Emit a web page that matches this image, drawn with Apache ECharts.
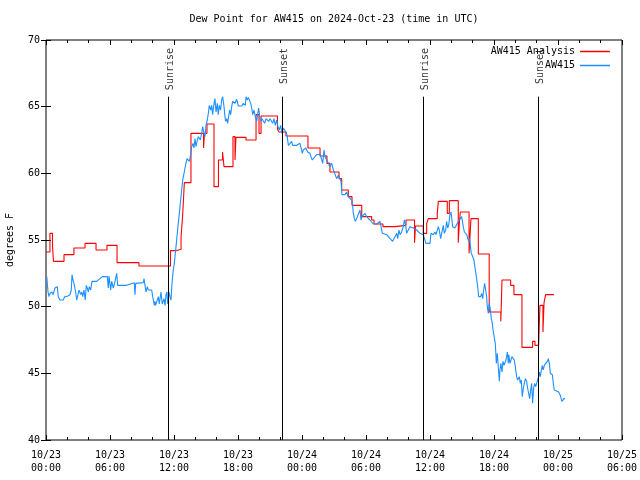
<!DOCTYPE html>
<html>
<head>
<meta charset="utf-8">
<script src="https://cdn.jsdelivr.net/npm/echarts@6/dist/echarts.min.js"></script>
<style>html,body{margin:0;padding:0;background:#fff}#c{width:640px;height:480px}</style>
</head>
<body>
<div id="c"></div>
<script>
// Hours since 2024-10-23 00:00 UTC, dew point in degrees F
const chartTitle = 'Dew Point for AW415 on 2024-Oct-23 (time in UTC)';
const yTickValues = [40, 45, 50, 55, 60, 65, 70];
const xTickHours = [0, 6, 12, 18, 24, 30, 36, 42, 48, 54];

const analysisName = 'AW415 Analysis';
const analysisSeries = [
  [0.00,54.1],[0.37,55.5],[0.61,54.55],[0.70,53.4],[1.69,53.9],[2.62,54.4],[3.66,54.75],
  [4.69,54.25],[5.72,54.6],[6.66,53.3],[8.72,53.05],[11.67,54.2],[12.19,54.3],[12.66,55.2],
  [12.80,56.7],[12.97,59.3],[13.59,63.0],[14.77,61.9],[14.86,63.0],[15.09,63.7],[15.75,59.0],
  [16.17,61.0],[16.55,61.6],[16.69,60.5],[17.53,62.75],[17.72,61.0],[17.81,62.7],[18.75,62.5],
  [19.69,64.4],[19.97,63.0],[20.16,64.3],[21.70,63.3],[21.84,63.1],[22.50,62.8],[24.56,61.9],
  [25.69,61.3],[26.34,60.75],[26.62,60.1],[27.47,59.6],[27.72,58.75],[28.34,58.25],[28.69,57.6],
  [29.60,56.75],[30.53,56.5],[30.75,56.2],[31.59,56.0],[32.72,56.1],[33.75,56.5],[34.55,54.8],
  [34.64,56.05],[35.37,55.5],[35.69,56.25],[35.84,56.6],[36.68,57.0],[36.78,57.9],[37.62,57.0],
  [37.81,57.95],[38.65,54.8],[38.75,56.25],[38.84,57.1],[39.66,54.0],[39.84,56.6],[40.53,53.95],
  [41.55,49.6],[42.64,48.9],[42.75,52.0],[43.56,51.6],[43.87,50.9],[44.62,46.95],[45.62,47.4],
  [45.84,47.1],[46.19,47.3],[46.25,48.75],[46.31,50.1],[46.59,48.1],[46.69,50.3],[46.84,50.9],
  [47.62,50.9]
];

const stationName = 'AW415';
const stationSeries = [
  [0.07,52.25],[0.19,51.1],[0.28,50.75],[0.37,51.0],[0.47,50.9],[0.56,51.1],[0.66,50.9],[0.75,50.9],
  [0.84,51.4],[0.94,51.25],[1.06,51.5],[1.15,50.75],[1.31,50.5],[1.62,50.5],[1.75,50.75],[2.06,50.8],
  [2.25,50.9],[2.37,51.25],[2.44,52.4],[2.53,52.0],[2.62,51.75],[2.72,51.9],[2.78,51.1],[2.88,50.5],
  [3.00,50.9],[3.09,51.25],[3.25,50.9],[3.35,51.1],[3.44,50.75],[3.56,51.25],[3.68,50.5],[3.78,51.6],
  [3.87,51.4],[3.97,51.1],[4.06,51.5],[4.19,51.25],[4.31,51.9],[4.43,51.9],[4.75,51.9],[4.87,52.0],
  [5.28,52.25],[5.75,52.25],[5.84,51.4],[5.91,52.3],[5.97,51.9],[6.06,51.25],[6.16,51.9],[6.31,51.4],
  [6.47,51.9],[6.63,52.5],[6.72,51.6],[6.84,51.6],[7.56,51.6],[7.66,51.75],[8.28,51.8],[8.34,50.9],
  [8.41,51.75],[9.12,51.8],[9.19,52.1],[9.28,51.6],[9.37,51.1],[9.50,51.5],[9.59,51.25],[9.91,51.25],
  [10.00,50.75],[10.16,50.1],[10.22,50.4],[10.28,50.1],[10.44,50.2],[10.53,50.75],[10.62,50.2],
  [10.78,51.1],[10.90,50.2],[11.06,50.6],[11.16,50.1],[11.25,50.9],[11.34,51.1],[11.41,50.2],
  [11.53,51.1],[11.62,50.75],[11.72,50.5],[11.78,51.4],[11.84,52.0],[11.93,52.75],[12.03,53.25],
  [12.09,53.75],[12.19,54.5],[12.28,55.25],[12.40,56.25],[12.50,57.0],[12.59,57.75],[12.72,58.75],
  [12.82,59.5],[12.94,60.0],[13.03,60.4],[13.12,60.75],[13.22,61.1],[13.34,61.25],[13.44,60.9],
  [13.56,61.4],[13.66,62.0],[13.78,62.25],[13.87,61.9],[13.97,62.6],[14.06,62.0],[14.19,62.5],
  [14.28,62.75],[14.37,62.9],[14.47,62.5],[14.59,63.0],[14.69,63.5],[14.81,63.0],[14.91,62.75],
  [15.00,63.6],[15.12,64.0],[15.22,64.5],[15.31,65.1],[15.44,64.75],[15.53,65.1],[15.62,64.4],
  [15.75,65.25],[15.84,65.6],[15.94,64.6],[16.06,65.25],[16.15,64.4],[16.25,65.1],[16.37,64.75],
  [16.47,65.5],[16.56,65.75],[16.69,65.0],[16.78,64.25],[16.84,63.9],[16.94,64.1],[17.03,63.75],
  [17.12,64.25],[17.22,64.75],[17.31,64.4],[17.41,65.0],[17.50,65.4],[17.60,65.5],[17.72,65.25],
  [17.88,65.55],[18.03,65.05],[18.35,65.05],[18.50,65.25],[18.59,65.35],[18.69,65.1],[18.75,65.75],
  [18.87,65.5],[18.97,65.7],[19.06,65.7],[19.19,65.25],[19.28,64.9],[19.38,64.4],[19.50,64.75],
  [19.62,64.25],[19.75,63.9],[19.84,64.4],[19.94,64.9],[20.06,64.1],[20.16,63.9],[20.25,64.1],
  [20.37,64.25],[20.50,63.75],[20.62,64.1],[20.75,64.25],[20.88,63.9],[21.00,64.1],[21.12,64.25],
  [21.25,63.75],[21.37,64.1],[21.50,63.6],[21.62,64.0],[21.75,63.5],[21.87,63.25],[22.00,63.6],
  [22.12,63.0],[22.25,63.4],[22.37,63.3],[22.50,63.1],[22.62,62.75],[22.72,62.1],[22.87,62.1],
  [23.03,62.4],[23.12,62.1],[23.50,62.1],[23.81,62.25],[23.97,62.4],[24.03,61.5],[24.12,61.75],
  [24.22,61.9],[24.28,61.6],[24.37,61.9],[24.44,62.0],[24.53,61.6],[24.66,61.75],[24.75,61.5],
  [24.84,61.25],[24.97,61.0],[25.06,61.1],[25.37,61.4],[25.53,61.5],[25.69,61.45],[25.84,61.5],
  [25.94,60.75],[26.06,61.75],[26.16,61.25],[26.31,61.1],[26.47,60.75],[26.62,60.5],[26.78,60.75],
  [26.94,60.25],[27.09,60.1],[27.25,59.6],[27.41,59.85],[27.56,60.0],[27.66,59.4],[27.75,58.4],
  [27.87,58.5],[28.03,58.4],[28.19,58.6],[28.34,58.25],[28.50,58.25],[28.66,58.0],[28.75,57.6],
  [28.81,57.0],[28.91,56.6],[29.00,56.4],[29.12,56.6],[29.28,56.5],[29.44,57.25],[29.53,56.5],
  [29.62,56.75],[29.75,56.6],[29.91,57.0],[30.06,56.75],[30.22,56.6],[30.37,56.5],[30.53,56.4],
  [30.69,56.2],[31.00,56.2],[31.16,56.1],[31.31,56.4],[31.41,56.0],[31.53,55.5],[31.94,55.4],
  [32.09,55.25],[32.25,55.1],[32.41,55.0],[32.50,54.9],[32.62,55.05],[32.72,55.25],[32.88,55.5],
  [32.97,55.1],[33.09,55.75],[33.19,55.4],[33.34,55.6],[33.50,56.0],[33.59,56.5],[33.72,56.1],
  [33.81,55.5],[33.97,55.6],[34.12,56.0],[34.28,56.0],[34.44,55.9],[34.59,55.8],[34.75,55.75],
  [34.91,55.6],[35.06,55.5],[35.22,55.5],[35.37,55.4],[35.53,55.25],[35.62,54.75],[36.00,54.75],
  [36.09,55.5],[36.22,55.6],[36.31,55.4],[36.47,55.6],[36.56,55.4],[36.69,55.75],[36.78,56.0],
  [36.87,55.75],[37.00,55.1],[37.09,55.5],[37.25,56.1],[37.34,55.5],[37.47,55.75],[37.56,56.4],
  [37.66,55.9],[37.75,56.1],[37.81,56.5],[37.87,56.9],[37.97,57.1],[38.06,56.5],[38.12,56.0],
  [38.25,56.1],[38.34,55.9],[38.44,56.0],[38.56,56.25],[38.65,56.4],[38.75,56.5],[38.84,56.4],
  [38.97,56.75],[39.06,56.9],[39.12,56.0],[39.22,55.6],[39.31,55.5],[39.44,55.4],[39.53,55.25],
  [39.62,54.9],[39.72,55.1],[39.78,54.6],[39.87,54.0],[40.00,53.9],[40.09,53.6],[40.19,53.1],
  [40.28,52.6],[40.37,52.1],[40.47,51.5],[40.56,50.75],[40.66,50.6],[40.75,50.75],[40.84,51.0],
  [40.94,50.6],[41.03,51.25],[41.12,51.75],[41.22,51.25],[41.31,50.75],[41.37,50.0],[41.47,49.5],
  [41.56,50.25],[41.66,49.75],[41.75,49.1],[41.84,48.75],[41.94,48.1],[42.03,48.0],[42.12,47.25],
  [42.22,45.75],[42.31,46.5],[42.40,45.5],[42.50,44.4],[42.56,45.25],[42.65,45.75],[42.75,45.1],
  [42.84,45.9],[42.94,45.6],[43.03,45.75],[43.12,46.0],[43.25,46.6],[43.34,45.75],[43.38,46.4],
  [43.50,45.75],[43.59,46.0],[43.69,46.25],[43.81,46.1],[43.90,46.0],[44.00,45.5],[44.12,44.75],
  [44.22,44.5],[44.31,44.4],[44.37,44.75],[44.47,44.25],[44.56,44.5],[44.65,43.25],[44.75,43.9],
  [44.84,44.25],[44.94,44.6],[45.06,44.4],[45.15,43.9],[45.25,43.5],[45.34,43.1],[45.44,43.75],
  [45.53,44.25],[45.62,42.75],[45.72,43.9],[45.81,44.25],[45.91,44.0],[46.00,44.1],[46.09,44.5],
  [46.19,44.75],[46.25,45.1],[46.34,44.75],[46.44,45.25],[46.53,45.6],[46.62,45.25],[46.72,45.6],
  [46.81,45.5],[46.90,45.75],[47.00,45.9],[47.09,46.1],[47.19,45.75],[47.28,45.0],[47.37,44.9],
  [47.47,44.9],[47.56,44.25],[47.65,43.75],[47.75,43.6],[48.06,43.6],[48.19,43.4],[48.28,43.25],
  [48.37,42.9],[48.47,43.0],[48.56,43.1],[48.66,43.1]
];

const sunLabels = ['Sunrise', 'Sunset', 'Sunrise', 'Sunset'];
const sunHours = [11.44, 22.12, 35.34, 46.12];

const FONT = 'DejaVu Sans Mono';
const chart = echarts.init(document.getElementById('c'), null, {renderer: 'canvas'});

function fmtHour(h) {
  const day = 23 + Math.floor(h / 24);
  const hh = h % 24;
  return '10/' + day + '\n' + (hh < 10 ? '0' : '') + hh + ':00';
}

const sunLineData = sunHours.map(t => [{coord: [t, 40]}, {coord: [t, 65.75]}]);

const option = {
  animation: false,
  backgroundColor: '#fff',
  textStyle: {fontFamily: FONT, fontSize: 10, color: '#000'},
  title: {
    text: chartTitle, left: 329, top: 9, textAlign: 'center',
    textStyle: {fontFamily: FONT, fontSize: 10, fontWeight: 'normal', color: '#000'}
  },
  legend: {
    orient: 'vertical', align: 'right', right: 25, top: 41, itemGap: 3,
    itemWidth: 30, itemHeight: 1.5, icon: 'rect',
    textStyle: {fontFamily: FONT, fontSize: 10, color: '#000', lineHeight: 11},
    data: [analysisName, stationName]
  },
  grid: {left: 46, right: 18, top: 40, bottom: 40, outerBoundsMode: 'none', containLabel: false,
    show: true, borderColor: '#000', borderWidth: 1, backgroundColor: 'transparent'},
  xAxis: [{
    type: 'value', min: 0, max: 54, interval: 6,
    axisLine: {show: false},
    axisTick: {show: true, inside: true, length: 5, lineStyle: {color: '#000'}},
    minorTick: {show: true, splitNumber: 3, length: 3, lineStyle: {color: '#000'}},
    splitLine: {show: false},
    axisLabel: {fontFamily: FONT, fontSize: 10, color: '#000', margin: 9, lineHeight: 13,
      formatter: v => xTickHours.includes(v) ? fmtHour(v) : ''}
  }, {
    type: 'value', min: 0, max: 54, interval: 6, position: 'top',
    axisLine: {show: false},
    axisTick: {show: true, inside: true, length: 5, lineStyle: {color: '#000'}},
    minorTick: {show: true, splitNumber: 3, length: 3, lineStyle: {color: '#000'}},
    splitLine: {show: false}, axisLabel: {show: false}
  }],
  yAxis: [{
    type: 'value', min: 40, max: 70, interval: 5,
    name: 'degrees F', nameLocation: 'middle', nameGap: 31, nameRotate: 90,
    nameTextStyle: {fontFamily: FONT, fontSize: 10, color: '#000'},
    axisLine: {show: false},
    axisTick: {show: true, inside: true, length: 5, lineStyle: {color: '#000'}},
    splitLine: {show: false},
    axisLabel: {fontFamily: FONT, fontSize: 10, color: '#000', margin: 6,
      formatter: v => yTickValues.includes(v) ? String(v) : ''}
  }, {
    type: 'value', min: 40, max: 70, interval: 5, position: 'right',
    axisLine: {show: false},
    axisTick: {show: true, inside: true, length: 5, lineStyle: {color: '#000'}},
    splitLine: {show: false}, axisLabel: {show: false}
  }],
  series: [
    {
      name: analysisName, type: 'line', step: 'end', data: analysisSeries,
      showSymbol: false, symbol: 'none', color: '#ff0000',
      lineStyle: {color: '#ff0000', width: 1.1}, z: 3,
      markLine: {
        silent: true, symbol: 'none', animation: false,
        lineStyle: {color: '#000', width: 1, type: 'solid'},
        label: {show: false},
        data: sunLineData
      }
    },
    {
      name: stationName, type: 'line', data: stationSeries,
      showSymbol: false, symbol: 'none', color: '#1e90ff',
      lineStyle: {color: '#1e90ff', width: 1.1}, z: 4
    },
    {
      name: 'sunEvents', type: 'scatter', symbolSize: 1, itemStyle: {color: 'rgba(0,0,0,0)'},
      data: sunHours.map((t, i) => ({value: [t, 69.4], name: sunLabels[i]})),
      label: {
        show: true, position: 'inside', rotate: 90, align: 'right', verticalAlign: 'middle',
        offset: [0, 2],
        formatter: p => p.name, fontFamily: FONT, fontSize: 10, color: '#000'
      },
      z: 5
    }
  ]
};
chart.setOption(option);
</script>
</body>
</html>
